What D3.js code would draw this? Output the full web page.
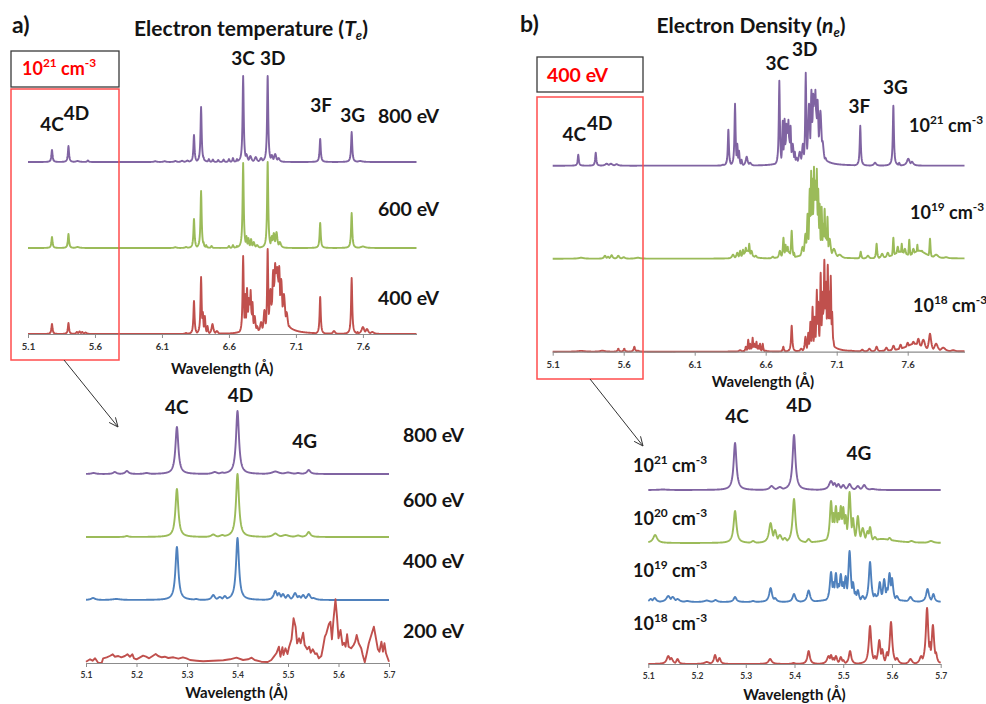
<!DOCTYPE html>
<html>
<head>
<meta charset="utf-8">
<script src="https://cdn.jsdelivr.net/npm/d3@7"></script>
<style>
  body { margin: 0; background: #fff; }
  svg text { font-family: Lato, "Liberation Sans", Arial, sans-serif; font-weight: bold; }
</style>
</head>
<body>
<svg id="fig" width="986" height="704"></svg>
<script>
// ---------- data: line lists [wavelength (Å), intensity, optional half width (Å)] ----------

// (a) electron temperature series at n_e = 1e21 cm^-3, full range 5.1–8.0 Å
const teLabelsWide = ["800 eV", "600 eV", "400 eV"];
const teOffsetsWide = [172, 86, 0];
const te800Wide = [
  [5.279, 12], [5.402, 16], [5.47, 1, 0.015], [5.547, 1.5, 0.006],
  [6.05, 0.8, 0.01], [6.12, 0.8, 0.01], [6.2, 1, 0.01], [6.25, 1.2, 0.01], [6.29, 1.5, 0.01],
  [6.339, 27], [6.392, 55], [6.41, 5], [6.45, 3], [6.48, 2.5], [6.52, 2], [6.56, 2.5], [6.6, 3], [6.63, 4], [6.66, 3],
  [6.706, 86], [6.73, 8, 0.01], [6.76, 6, 0.01], [6.8, 5, 0.01], [6.84, 4, 0.01],
  [6.889, 86], [6.92, 7, 0.01], [6.945, 8, 0.01], [6.97, 4, 0.01],
  [7.281, 23], [7.516, 30], [7.58, 1, 0.02]
];
const te600Wide = [
  [5.279, 11], [5.402, 14], [5.47, 1, 0.015],
  [6.2, 0.8, 0.01], [6.28, 1, 0.01],
  [6.339, 29], [6.392, 57], [6.41, 6], [6.43, 3], [6.47, 2], [6.6, 2], [6.63, 3], [6.66, 2],
  [6.706, 85], [6.73, 12, 0.006], [6.745, 10, 0.006], [6.765, 9, 0.006], [6.785, 6, 0.008], [6.81, 3, 0.01],
  [6.889, 86], [6.92, 12, 0.008], [6.935, 15, 0.008], [6.955, 16, 0.008], [6.98, 6, 0.01],
  [7.281, 25], [7.516, 35], [7.6, 1.5, 0.02]
];
const te400Wide = [
  [5.279, 10], [5.402, 11], [5.465, 2, 0.008], [5.485, 2.5, 0.008], [5.505, 2, 0.008], [5.53, 1.5, 0.01],
  [6.28, 1, 0.01],
  [6.339, 33], [6.392, 57], [6.405, 22], [6.42, 18], [6.44, 8], [6.477, 10, 0.008], [6.51, 3, 0.01],
  [6.706, 78], [6.722, 40], [6.735, 46], [6.748, 36], [6.762, 44], [6.776, 32], [6.792, 18, 0.008],
  [6.755, 30, 0.022],
  [6.81, 8, 0.01], [6.84, 12, 0.01], [6.865, 24, 0.008],
  [6.889, 85], [6.91, 45, 0.01], [6.93, 64, 0.008], [6.945, 71, 0.008], [6.96, 67, 0.008], [6.975, 68, 0.008],
  [6.99, 55, 0.01], [6.955, 62, 0.035],
  [7.01, 40, 0.012], [7.03, 22, 0.012], [7.05, 8, 0.012],
  [7.281, 37], [7.384, 3, 0.01], [7.516, 56], [7.56, 2], [7.6, 7, 0.012], [7.63, 5, 0.012], [7.67, 2, 0.015]
];

// (a) zoom on 5.1–5.7 Å
const teLabelsZoom = ["800 eV", "600 eV", "400 eV", "200 eV"];
const teOffsetsZoom = [189, 126, 63, 0];
const te800Zoom = [
  [5.115, 1, 0.005], [5.157, 2], [5.181, 3], [5.22, 1, 0.006], [5.28, 47, 0.0035],
  [5.355, 2, 0.006], [5.37, 1.5, 0.006], [5.4, 63, 0.0035], [5.475, 2.5, 0.008], [5.5, 1.5, 0.008],
  [5.52, 1, 0.006], [5.541, 4]
];
const te600Zoom = [
  [5.181, 1], [5.28, 48, 0.0035], [5.352, 2.5, 0.005], [5.37, 2, 0.006], [5.4, 63, 0.0035],
  [5.475, 3.5, 0.006], [5.495, 2, 0.008], [5.52, 1.5, 0.006], [5.541, 5]
];
const te400Zoom = [
  [5.114, 2, 0.005], [5.16, 1, 0.01], [5.28, 53, 0.0035], [5.318, 1, 0.005], [5.352, 5], [5.365, 3, 0.005],
  [5.375, 4], [5.4, 62, 0.0035], [5.475, 9], [5.482, 7], [5.49, 6], [5.5, 5], [5.514, 7], [5.522, 4],
  [5.53, 5], [5.541, 6], [5.55, 2, 0.006]
];
// 200 eV spectrum is a coarse sampled series: [wavelength, intensity]
const te200ZoomPoints = [
  [5.100, 1.3], [5.108, 3.7], [5.113, 2.3], [5.118, 4.7], [5.124, 0.3], [5.131, 0], [5.134, 4.7], [5.141, 5.7],
  [5.147, 7], [5.153, 8.7], [5.157, 6.3], [5.164, 7], [5.170, 5.7], [5.177, 7], [5.182, 8.7], [5.187, 6.3],
  [5.192, 8.7], [5.195, 4.7], [5.200, 3.7], [5.207, 5.7], [5.213, 7.3], [5.219, 6.3], [5.225, 4.7], [5.232, 7],
  [5.238, 9], [5.243, 7], [5.250, 5.7], [5.256, 6.3], [5.263, 5], [5.273, 5.7], [5.283, 4.3], [5.292, 5.7],
  [5.299, 4.7], [5.306, 3], [5.319, 2.3], [5.332, 1.7], [5.352, 2.3], [5.372, 2.7], [5.385, 3.7], [5.398, 5.3],
  [5.411, 3], [5.421, 3.7], [5.428, 5.3], [5.434, 3], [5.447, 1.3], [5.460, 1], [5.467, 3], [5.472, 6.3],
  [5.477, 9.7], [5.482, 16.3], [5.485, 6.3], [5.489, 15.7], [5.491, 8], [5.495, 14.7], [5.499, 9], [5.502, 15.7],
  [5.507, 23.7], [5.511, 44.7], [5.515, 36.3], [5.518, 19.7], [5.522, 24.7], [5.525, 19.7], [5.530, 30.3],
  [5.533, 18], [5.538, 13.7], [5.542, 16.3], [5.545, 10.3], [5.549, 13.7], [5.554, 9], [5.557, 9.7], [5.561, 4.7],
  [5.566, 7], [5.569, 14.7], [5.573, 26.3], [5.576, 29.7], [5.581, 39], [5.584, 41.3], [5.587, 23.7], [5.590, 43],
  [5.594, 63.7], [5.597, 46.3], [5.600, 24.7], [5.604, 33], [5.608, 18], [5.611, 20.3], [5.614, 16.3],
  [5.617, 28.7], [5.620, 16.3], [5.625, 14.7], [5.630, 18], [5.633, 21.3], [5.636, 28], [5.640, 19.7],
  [5.645, 14.7], [5.648, 8], [5.652, 0.7], [5.656, 9.7], [5.660, 19.7], [5.665, 28], [5.670, 36.3], [5.673, 28],
  [5.678, 13.7], [5.681, 11.3], [5.685, 21.3], [5.688, 11.3], [5.691, 19.7], [5.694, 9.7], [5.700, 1.3]
];

// (b) electron density series at T_e = 400 eV, full range 5.1–8.0 Å
const neExpWide = ["21", "19", "18"];
const neOffsetsWide = [186, 93, 0];
const ne21Wide = [
  [5.28, 11], [5.403, 13], [5.48, 2, 0.012], [5.51, 2, 0.012], [5.55, 1.5, 0.012],
  [6.3, 1, 0.01],
  [6.337, 36], [6.384, 62], [6.40, 22], [6.412, 15], [6.43, 6], [6.466, 9, 0.008], [6.49, 3, 0.01],
  [6.696, 85], [6.72, 45], [6.733, 47], [6.746, 42], [6.76, 46], [6.775, 40], [6.79, 22, 0.008], [6.805, 14],
  [6.755, 34, 0.022],
  [6.818, 8, 0.01], [6.84, 14, 0.01], [6.862, 22, 0.008],
  [6.882, 93], [6.905, 62, 0.008], [6.922, 76, 0.006], [6.935, 72, 0.006], [6.95, 76, 0.006], [6.965, 66, 0.008],
  [6.945, 64, 0.025],
  [6.985, 55, 0.01], [7.0, 25, 0.01], [7.02, 8, 0.012],
  [7.266, 40], [7.37, 3, 0.01], [7.499, 60], [7.54, 3], [7.604, 7, 0.012], [7.63, 4, 0.012]
];
const ne19Wide = [
  [5.3, 1, 0.02], [5.468, 3, 0.008], [5.49, 2, 0.008], [5.515, 3.5, 0.008], [5.562, 3, 0.008], [5.6, 1.5, 0.01], [5.7, 1, 0.02],
  [6.37, 4, 0.01], [6.40, 6, 0.008], [6.42, 8, 0.006], [6.44, 9, 0.006], [6.46, 11, 0.006], [6.484, 15, 0.005],
  [6.50, 8, 0.008], [6.53, 3, 0.01], [6.47, 8, 0.03],
  [6.65, 2, 0.01], [6.70, 8, 0.008], [6.725, 21, 0.005], [6.74, 14], [6.755, 12], [6.783, 28, 0.005], [6.8, 6],
  [6.75, 8, 0.03],
  [6.86, 12, 0.01], [6.88, 25, 0.008], [6.895, 45, 0.006], [6.91, 70, 0.005], [6.92, 88, 0.004], [6.93, 80],
  [6.94, 92], [6.95, 78], [6.96, 90], [6.97, 70], [6.98, 55], [6.994, 52], [7.005, 35], [7.015, 50], [7.025, 30],
  [6.95, 62, 0.025],
  [7.035, 42], [7.05, 20, 0.01], [7.08, 10, 0.015], [7.12, 4, 0.02],
  [7.269, 7], [7.32, 3, 0.01], [7.381, 15], [7.42, 5, 0.01], [7.46, 6, 0.01], [7.499, 21], [7.53, 12, 0.008],
  [7.558, 15], [7.58, 10, 0.01], [7.611, 19], [7.64, 10, 0.01], [7.668, 14], [7.7, 8, 0.012], [7.757, 20],
  [7.8, 4, 0.02], [7.87, 1.5, 0.02], [7.55, 7, 0.06], [7.68, 8, 0.06]
];
const ne18Wide = [
  [5.3, 0.8, 0.03], [5.45, 1, 0.02], [5.562, 3, 0.006], [5.604, 3, 0.006], [5.675, 5, 0.006], [5.7, 1, 0.01],
  [6.42, 1.5, 0.01], [6.46, 5, 0.005], [6.477, 12, 0.004], [6.49, 8, 0.004], [6.508, 14, 0.004], [6.52, 8, 0.004],
  [6.535, 10, 0.004], [6.55, 6, 0.004], [6.56, 8, 0.004], [6.579, 8, 0.004], [6.6, 1, 0.01], [6.52, 5, 0.03],
  [6.724, 5, 0.005], [6.783, 26, 0.005],
  [6.85, 3, 0.01], [6.88, 15, 0.006], [6.90, 19, 0.005], [6.915, 30, 0.005], [6.93, 45], [6.945, 35], [6.96, 62],
  [6.97, 50], [6.987, 79], [7.0, 60], [7.013, 92], [7.025, 70], [7.037, 87], [7.048, 60], [7.058, 76], [7.068, 40],
  [7.015, 45, 0.025],
  [7.076, 12, 0.006], [7.1, 3, 0.01],
  [7.2, 1, 0.02], [7.28, 2, 0.01], [7.33, 3, 0.01], [7.381, 5, 0.008], [7.45, 4, 0.01], [7.5, 6, 0.01], [7.55, 7, 0.01],
  [7.6, 9, 0.012], [7.64, 10, 0.015], [7.675, 13, 0.012], [7.71, 12, 0.015], [7.757, 18, 0.01], [7.8, 8, 0.015],
  [7.85, 4, 0.02], [7.92, 1.5, 0.02], [7.65, 8, 0.08]
];

// (b) zoom on 5.1–5.7 Å
const neExpZoom = ["21", "20", "19", "18"];
const neOffsetsZoom = [174, 121, 62, 0];
const ne21Zoom = [
  [5.13, 0.5, 0.01], [5.278, 47, 0.0035], [5.353, 4, 0.005], [5.37, 3, 0.006], [5.399, 55, 0.0035],
  [5.475, 9, 0.005], [5.482, 7], [5.49, 6], [5.5, 5], [5.513, 6], [5.53, 4], [5.543, 5], [5.56, 1, 0.008]
];
const ne20Zoom = [
  [5.114, 8, 0.005], [5.278, 32, 0.0035], [5.315, 2], [5.351, 20], [5.36, 13], [5.37, 8, 0.005], [5.38, 5, 0.005],
  [5.399, 44, 0.0035], [5.429, 4], [5.475, 42, 0.003], [5.48, 30, 0.003], [5.485, 37, 0.003], [5.49, 30, 0.003],
  [5.495, 37, 0.003], [5.5, 36, 0.003], [5.505, 28, 0.003], [5.513, 51, 0.003], [5.52, 25, 0.003], [5.53, 27, 0.003],
  [5.495, 25, 0.012],
  [5.54, 15], [5.55, 12], [5.555, 16, 0.003], [5.565, 6, 0.005], [5.58, 4, 0.006], [5.595, 5, 0.005],
  [5.64, 2, 0.006], [5.68, 2, 0.006], [5.58, 4, 0.03]
];
const ne19Zoom = [
  [5.105, 3], [5.113, 4], [5.141, 6, 0.005], [5.15, 5, 0.005], [5.16, 3, 0.005], [5.18, 1, 0.006], [5.22, 1.5, 0.006],
  [5.238, 2], [5.278, 5, 0.0035], [5.315, 1], [5.351, 14, 0.0035], [5.36, 4], [5.399, 8, 0.0035], [5.429, 11.5, 0.0035],
  [5.475, 30, 0.003], [5.48, 20, 0.003], [5.485, 29, 0.003], [5.49, 18, 0.003], [5.495, 28, 0.003], [5.5, 20, 0.003],
  [5.505, 26, 0.003], [5.513, 51, 0.003], [5.52, 20, 0.003], [5.525, 10, 0.003], [5.53, 12, 0.003], [5.54, 6],
  [5.495, 17, 0.012],
  [5.555, 40, 0.003], [5.565, 8], [5.575, 20, 0.003], [5.584, 23, 0.003], [5.59, 14, 0.003], [5.595, 29, 0.003],
  [5.6, 24, 0.003], [5.61, 6], [5.638, 5], [5.673, 13, 0.0035], [5.685, 8, 0.003], [5.58, 8, 0.02]
];
const ne18Zoom = [
  [5.141, 8], [5.147, 6], [5.16, 5, 0.003], [5.22, 2, 0.006], [5.237, 9, 0.003], [5.246, 6, 0.003], [5.35, 5],
  [5.398, 1], [5.429, 13, 0.003], [5.47, 8], [5.475, 9, 0.003], [5.48, 6, 0.003], [5.485, 8, 0.003], [5.495, 7, 0.003],
  [5.5, 4, 0.003], [5.514, 13, 0.003], [5.555, 38, 0.003], [5.565, 8], [5.574, 24, 0.003], [5.58, 15, 0.003],
  [5.59, 12, 0.003], [5.598, 42, 0.003], [5.61, 6], [5.638, 5], [5.66, 8], [5.672, 56, 0.003], [5.678, 22, 0.002],
  [5.684, 39, 0.003], [5.69, 12, 0.003]
];

const wideTicks = [5.1, 5.6, 6.1, 6.6, 7.1, 7.6];
const zoomTicks = [5.1, 5.2, 5.3, 5.4, 5.5, 5.6, 5.7];

// ---------- drawing ----------
const COL = { purple: "#8064A2", green: "#9BBB59", blue: "#4F81BD", red: "#C0504D" };
const INK = "#141414";
const svg = d3.select("#fig");

// evaluate a line list as Lorentzian profiles on a fine wavelength grid
function spectrumPoints(lines, domain, step, wDefault) {
  const grid = d3.range(domain[0], domain[1] + step * 0.5, step).map(v => Math.min(v, domain[1]));
  lines.forEach(l => { if (l[0] > domain[0] && l[0] < domain[1]) grid.push(l[0]); });
  grid.sort((a, b) => a - b);
  return grid.map(x => {
    let v = 0;
    for (const l of lines) {
      const d = (x - l[0]) / (l[2] || wDefault);
      const p = l[1] / (1 + d * d);
      if (p > v) v = p;
    }
    return [x, v];
  });
}

function drawTrace(points, offset, color, x, y) {
  svg.append("path")
    .datum(points)
    .attr("d", d3.line().x(d => x(d[0])).y(d => y(d[1] + offset)))
    .attr("fill", "none")
    .attr("stroke", color)
    .attr("stroke-width", 1.9)
    .attr("stroke-linejoin", "round");
}

function drawAxis(x, yPix, ticks, fontSize, pad) {
  const ax = svg.append("g")
    .attr("transform", `translate(0,${yPix})`)
    .call(d3.axisBottom(x).tickValues(ticks).tickFormat(d3.format(".1f"))
      .tickSize(4).tickSizeOuter(0).tickPadding(pad));
  ax.attr("font-family", null).attr("font-size", null);
  ax.select(".domain").attr("stroke", "#8c8c8c").attr("stroke-width", 1.2);
  ax.selectAll(".tick line").attr("stroke", "#8c8c8c");
  ax.selectAll(".tick text").attr("fill", "#333").style("font-size", fontSize + "px");
}

function label(x, y, txt, size, anchor, color) {
  return svg.append("text").attr("x", x).attr("y", y)
    .attr("text-anchor", anchor || "middle")
    .attr("fill", color || INK)
    .style("font-size", (size || 19) + "px")
    .text(txt);
}

function densityLabel(x, y, exp, size, color) {
  const t = svg.append("text").attr("x", x).attr("y", y)
    .attr("fill", color || INK).style("font-size", size + "px");
  const s = size * 0.42;
  t.append("tspan").text("10");
  t.append("tspan").text(exp).attr("dy", -s).style("font-size", (size * 0.66) + "px");
  t.append("tspan").text(" cm").attr("dy", s);
  t.append("tspan").text("-3").attr("dy", -s).style("font-size", (size * 0.66) + "px");
  return t;
}

function title(x, y, pre, sym) {
  const t = svg.append("text").attr("x", x).attr("y", y).attr("text-anchor", "middle")
    .attr("fill", INK).style("font-size", "21px");
  t.append("tspan").text(pre);
  t.append("tspan").text(sym).style("font-style", "italic");
  t.append("tspan").text("e").style("font-style", "italic").style("font-size", "13px").attr("dy", 4);
  t.append("tspan").text(")").attr("dy", -4);
}

function arrow(x1, y1, x2, y2) {
  const g = svg.append("g").attr("stroke", "#333").attr("stroke-width", 1).attr("fill", "none");
  g.append("line").attr("x1", x1).attr("y1", y1).attr("x2", x2).attr("y2", y2);
  const a = Math.atan2(y2 - y1, x2 - x1), L = 10, s = 0.42;
  g.append("path").attr("d",
    `M${x2 - L * Math.cos(a - s)},${y2 - L * Math.sin(a - s)} L${x2},${y2} L${x2 - L * Math.cos(a + s)},${y2 - L * Math.sin(a + s)}`);
}

// ===== panel (a), full range =====
const xA = d3.scaleLinear().domain([5.1, 8.0]).range([28, 416.5]);
const yA = d3.scaleLinear().domain([0, 258]).range([334, 76]);
[[te800Wide, COL.purple], [te600Wide, COL.green], [te400Wide, COL.red]].forEach(([lines, c], i) =>
  drawTrace(spectrumPoints(lines, [5.1, 8.0], 0.002, 0.005), teOffsetsWide[i], c, xA, yA));
drawAxis(xA, yA(0), wideTicks, 9.5, 5);
label(xA(6.55), 374, "Wavelength (Å)", 15);

// ===== panel (a), zoom =====
const xAz = d3.scaleLinear().domain([5.1, 5.7]).range([86, 389]);
const yAz = d3.scaleLinear().domain([0, 252]).range([663, 411]);
[[te800Zoom, COL.purple], [te600Zoom, COL.green], [te400Zoom, COL.blue]].forEach(([lines, c], i) =>
  drawTrace(spectrumPoints(lines, [5.1, 5.7], 0.0005, 0.004), teOffsetsZoom[i], c, xAz, yAz));
drawTrace(te200ZoomPoints, teOffsetsZoom[3], COL.red, xAz, yAz);
drawAxis(xAz, yAz(0), zoomTicks, 8.5, 5);
label(xAz(5.398), 698, "Wavelength (Å)", 15);

// ===== panel (b), full range =====
const xB = d3.scaleLinear().domain([5.1, 8.0]).range([552.7, 964.5]);
const yB = d3.scaleLinear().domain([0, 279]).range([351.7, 72.7]);
[[ne21Wide, COL.purple], [ne19Wide, COL.green], [ne18Wide, COL.red]].forEach(([lines, c], i) =>
  drawTrace(spectrumPoints(lines, [5.1, 8.0], 0.002, 0.0045), neOffsetsWide[i], c, xB, yB));
drawAxis(xB, yB(0), wideTicks, 9.5, 6);
label(xB(6.58), 387, "Wavelength (Å)", 15);

// ===== panel (b), zoom =====
const xBz = d3.scaleLinear().domain([5.1, 5.7]).range([648.3, 940.7]);
const yBz = d3.scaleLinear().domain([0, 230]).range([664, 434]);
[[ne21Zoom, COL.purple], [ne20Zoom, COL.green], [ne19Zoom, COL.blue], [ne18Zoom, COL.red]].forEach(([lines, c], i) =>
  drawTrace(spectrumPoints(lines, [5.1, 5.7], 0.0005, 0.004), neOffsetsZoom[i], c, xBz, yBz));
drawAxis(xBz, yBz(0), zoomTicks, 8.5, 5);
label(xBz(5.4), 700, "Wavelength (Å)", 15);

// ---------- annotations ----------
label(12, 33, "a)", 23, "start");
label(520, 32, "b)", 23, "start");
title(251, 36, "Electron temperature (", "T");
title(751, 33, "Electron Density (", "n");

// selection boxes and zoom arrows
svg.append("rect").attr("x", 11).attr("y", 51).attr("width", 108).attr("height", 36)
  .attr("fill", "none").attr("stroke", "#3a3a3a").attr("stroke-width", 1.3);
svg.append("rect").attr("x", 11).attr("y", 89).attr("width", 108).attr("height", 271)
  .attr("fill", "none").attr("stroke", "#ff4d4d").attr("stroke-width", 1.5);
densityLabel(22, 75, "21", 18, "#ff0000");
svg.append("rect").attr("x", 537).attr("y", 57).attr("width", 106).attr("height", 35)
  .attr("fill", "none").attr("stroke", "#3a3a3a").attr("stroke-width", 1.3);
svg.append("rect").attr("x", 537).attr("y", 97).attr("width", 106).attr("height", 282)
  .attr("fill", "none").attr("stroke", "#ff4d4d").attr("stroke-width", 1.5);
label(547, 82, "400 eV", 19.5, "start", "#ff0000");
arrow(64, 360, 118, 427);
arrow(590, 379, 643, 446);

// panel (a) full-range labels
label(xA(5.279), 131, "4C");
label(xA(5.402) + 8, 120, "4D");
label(xA(6.706), 65, "3C");
label(xA(6.889) + 5, 65, "3D");
label(xA(7.281) + 1, 112, "3F");
label(xA(7.516) + 1, 122, "3G");
teLabelsWide.forEach((t, i) => label(378, [123, 216, 305][i], t, 19.5, "start"));

// panel (a) zoom labels
label(xAz(5.28), 414, "4C");
label(xAz(5.4) + 3, 402, "4D");
label(xAz(5.541) - 4, 448, "4G");
teLabelsZoom.forEach((t, i) => label(403, [442, 507, 568, 638][i], t, 19.5, "start"));

// panel (b) full-range labels
label(xB(5.28) - 4, 141, "4C");
label(xB(5.403) + 4, 130, "4D");
label(xB(6.696) - 2, 70, "3C");
label(xB(6.882) - 1, 56, "3D");
label(xB(7.266) - 1, 113, "3F");
label(xB(7.499) + 2, 94, "3G");
neExpWide.forEach((e, i) => densityLabel([909, 910, 913][i], [132, 219, 312][i], e, 18));

// panel (b) zoom labels
label(xBz(5.278) + 2, 423, "4C");
label(xBz(5.399) + 5, 412, "4D");
label(xBz(5.53) + 1, 460, "4G");
neExpZoom.forEach((e, i) => densityLabel(633, [472, 525, 577, 630][i], e, 18));
</script>
</body>
</html>
